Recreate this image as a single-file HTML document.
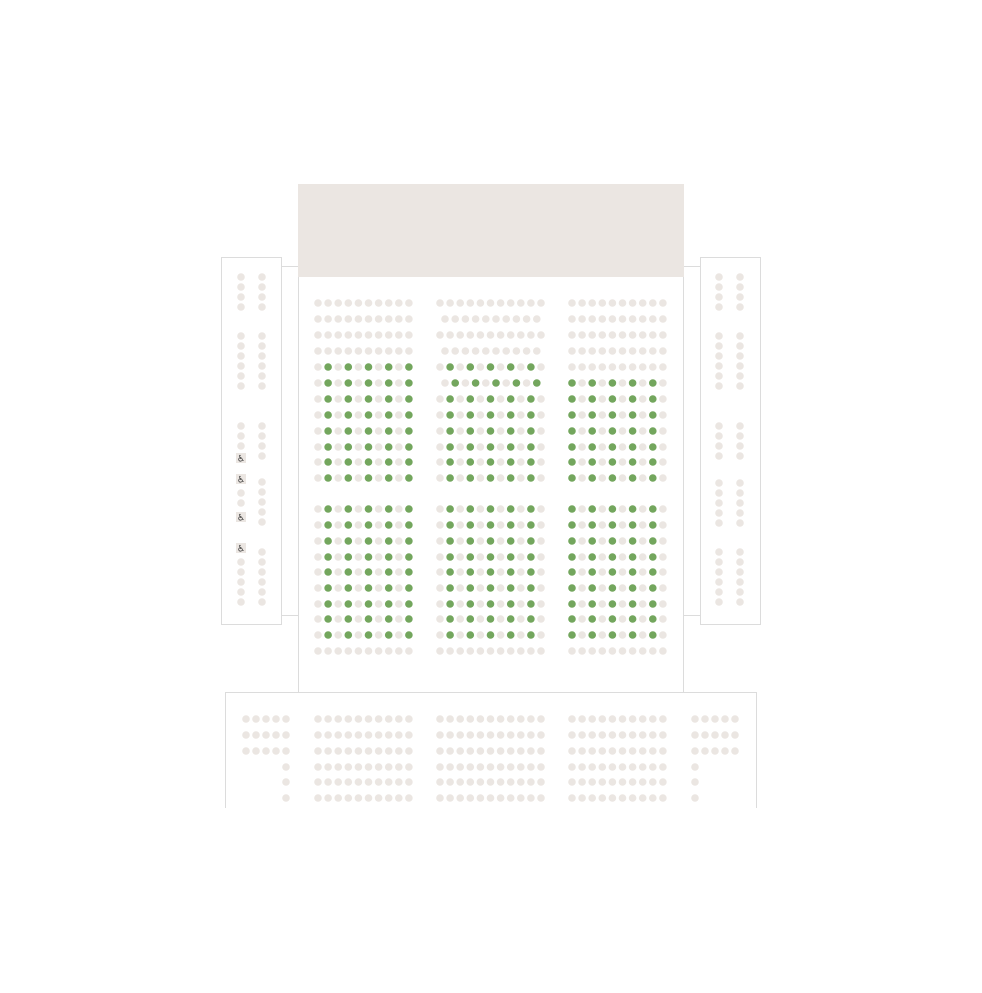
<!DOCTYPE html>
<html><head><meta charset="utf-8"><style>
html,body{margin:0;padding:0;background:#fff;width:982px;height:993px;overflow:hidden}
svg{display:block}
</style></head><body>
<svg id="s" width="982" height="993" xmlns="http://www.w3.org/2000/svg">
<rect x="281.5" y="266.5" width="17" height="349" fill="#fff" stroke="#dcdcdc"/>
<rect x="683.5" y="266.5" width="17" height="349" fill="#fff" stroke="#dcdcdc"/>
<rect x="298.5" y="184.5" width="385" height="508" fill="#fff" stroke="#dcdcdc"/>
<rect x="298" y="184" width="386" height="93" fill="#ebe6e2"/>
<rect x="221.5" y="257.5" width="60" height="367" fill="#fff" stroke="#dcdcdc"/>
<rect x="700.5" y="257.5" width="60" height="367" fill="#fff" stroke="#dcdcdc"/>
<path d="M225.5 808 V692.5 H756.5 V808" fill="#fff" stroke="#dcdcdc"/>
<g id="g"></g>
</svg>
<script>
var g=document.getElementById('g'),h='';
var L='#ebe6e2',G='#73a65d',R=3.8;
function c(x,y,f){h+='<circle cx="'+x+'" cy="'+y+'" r="'+R+'" fill="'+(f||L)+'"/>';}
function wc(x,y){h+='<rect x="'+(x-5)+'" y="'+(y-5)+'" width="10" height="10" fill="#ebe6e2"/><text x="'+x+'" y="'+(y+3.5)+'" font-size="9" text-anchor="middle" fill="#333" font-family="DejaVu Sans, sans-serif">♿</text>';}
var up=[303,319,335,351,367,383,399,415,431,447,462,478];
var lo=[509,525,541,557,572,588,604,619,635,651];
function row(x0,n,sp,y,gf){for(var i=0;i<n;i++)c(x0+i*sp,y,gf&&gf(i)?G:L);}
// upper
up.forEach(function(y,r){
 var gr=r>=4;
 row(318,10,10.1,y,gr?function(i){return i%2==1}:null);
 if(r==1||r==3||r==5) row(445,10,10.2,y,gr?function(i){return i%2==1}:null);
 else row(440,11,10.1,y,gr?function(i){return i%2==1}:null);
 row(572,10,10.1,y,r>=5?function(i){return i%2==0}:null);
});
lo.forEach(function(y,r){
 var gr=r<9;
 row(318,10,10.1,y,gr?function(i){return i%2==1}:null);
 row(440,11,10.1,y,gr?function(i){return i%2==1}:null);
 row(572,10,10.1,y,gr?function(i){return i%2==0}:null);
});
// left side
[277,287,297,307,336,346,356,366,376,386,426,436,446,493,503,562,572,582,592,602].forEach(function(y){c(241,y);});
[458,479,517,548].forEach(function(y){wc(241,y);});
[277,287,297,307,336,346,356,366,376,386,426,436,446,456,482,492,502,512,522,552,562,572,582,592,602].forEach(function(y){c(262,y);});
// right side
[277,287,297,307,336,346,356,366,376,386,426,436,446,456,483,493,503,513,523,552,562,572,582,592,602].forEach(function(y){c(719,y);c(740,y);});
// bottom
[719,735,751,767,782,798].forEach(function(y,r){
 if(r<3){row(246,5,10,y);row(695,5,10,y);}else{c(286,y);c(695,y);}
 row(318,10,10.1,y);row(440,11,10.1,y);row(572,10,10.1,y);
});
g.innerHTML=h;
</script>
</body></html>
